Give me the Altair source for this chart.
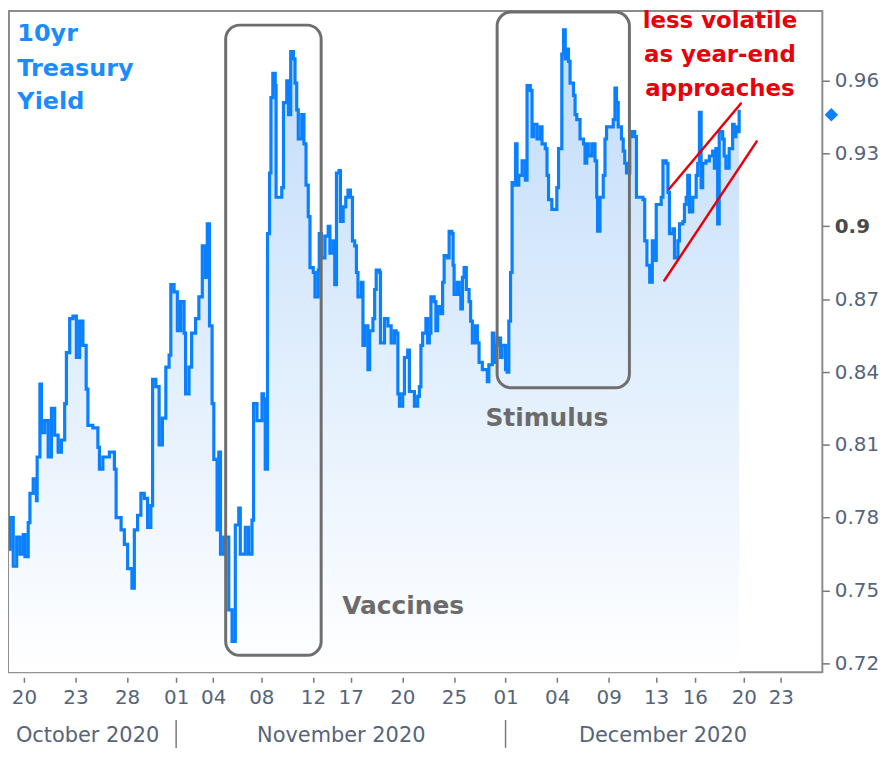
import altair as alt
import pandas as pd

# ---------------- data ----------------
# x position in trading days (0 = Oct 20), y = 10yr yield (%)
t_pos = [
    -1.10, -1.05, -0.81, -0.62, -0.42, -0.23, -0.04, 0.06, 0.25, 0.35, 0.54, 0.73, 0.77, 0.93, 1.02,
    1.21, 1.41, 1.60, 1.79, 1.99, 2.18, 2.37, 2.47, 2.66, 2.85, 3.05, 3.24, 3.43, 3.62, 3.72,
    4.01, 4.30, 4.39, 4.59, 4.97, 5.26, 5.36, 5.65, 5.84, 6.03, 6.28, 6.42, 6.61, 6.80, 7.00,
    7.19, 7.38, 7.48, 7.67, 7.86, 8.05, 8.25, 8.44, 8.54, 8.73, 8.92, 9.11, 9.31, 9.40, 9.60,
    9.75, 9.98, 10.17, 10.37, 10.56, 10.66, 10.79, 10.94, 11.04, 11.23, 11.33, 11.43, 11.62, 11.91, 12.10,
    12.29, 12.49, 12.58, 12.87, 13.06, 13.26, 13.35, 13.55, 13.84,
    13.93, 14.03, 14.12, 14.16, 14.28, 14.36, 14.47, 14.61, 14.66, 14.80, 14.99, 15.09, 15.28, 15.38, 15.51,
    15.67, 15.76, 15.86, 15.95, 16.15, 16.28, 16.40, 16.53, 16.63, 16.82, 16.92, 17.11, 17.17, 17.30, 17.50,
    17.69, 17.79, 17.98, 18.07, 18.17, 18.32, 18.40, 18.56, 18.71, 18.84, 18.98, 19.10, 19.23, 19.33, 19.42,
    19.62, 19.71, 19.81, 20.00, 20.10, 20.29, 20.39, 20.48, 20.68, 20.73, 20.87, 20.96, 21.16, 21.35, 21.54,
    21.64, 21.74, 21.83, 22.02, 22.12, 22.31, 22.41, 22.60, 22.70, 22.89, 22.99, 23.08, 23.18, 23.37, 23.47,
    23.57, 23.66, 23.85, 23.95, 24.05, 24.24, 24.34, 24.43, 24.63, 24.72, 24.88, 24.95, 25.01, 25.20, 25.30,
    25.40, 25.49, 25.59, 25.72, 25.88, 25.97, 26.07, 26.26, 26.36, 26.46, 26.65, 26.84, 26.94, 27.03, 27.23,
    27.32, 27.42, 27.52, 27.71, 27.80, 28.00, 28.09, 28.19, 28.29, 28.38, 28.48, 28.58, 28.67, 28.77, 28.96,
    29.15, 29.25,
    29.44, 29.54, 29.63, 29.83, 30.02, 30.12, 30.31, 30.41, 30.50, 30.69, 30.79, 30.98, 31.08, 31.18, 31.27,
    31.37, 31.47, 31.56, 31.66, 31.75, 31.95, 32.04, 32.14, 32.33, 32.53, 32.62, 32.72, 32.81, 33.01, 33.10,
    33.20, 33.30, 33.35, 33.49, 33.68, 33.78, 33.87, 34.07, 34.26, 34.36, 34.45, 34.55, 34.74, 34.84, 34.93,
    35.03, 35.22, 35.32, 35.51, 35.61, 35.80, 35.99, 36.09, 36.22, 36.38, 36.53, 36.67, 36.76, 36.96, 37.05,
    37.15, 37.34, 37.44, 37.53, 37.73, 37.82, 38.02, 38.11, 38.31, 38.40, 38.50, 38.59, 38.69, 38.88, 39.08,
    39.17, 39.27, 39.37, 39.46, 39.65, 39.85, 40.04, 40.14, 40.23, 40.33, 40.42, 40.62, 40.71, 40.81, 41.00,
    41.20, 41.29, 41.39, 41.48, 41.58,
]
yld = [
    0.756, 0.767, 0.780, 0.760, 0.772, 0.765, 0.773, 0.764, 0.778, 0.790, 0.796, 0.787, 0.805, 0.835, 0.815,
    0.820, 0.805, 0.825, 0.814, 0.807, 0.812, 0.827, 0.848, 0.862, 0.863, 0.846, 0.861, 0.851, 0.833, 0.818,
    0.817, 0.809, 0.800, 0.805, 0.807, 0.800, 0.780, 0.775, 0.769, 0.759, 0.751, 0.775, 0.781, 0.790, 0.788,
    0.776, 0.785, 0.837, 0.834, 0.810, 0.821, 0.842, 0.847, 0.876, 0.873, 0.857, 0.869, 0.856, 0.831, 0.842,
    0.856, 0.862, 0.871, 0.892, 0.879, 0.901, 0.859, 0.827, 0.804, 0.775, 0.807, 0.765, 0.772, 0.742, 0.729,
    0.777, 0.784, 0.765, 0.776, 0.765, 0.779, 0.827, 0.820, 0.831,
    0.829, 0.800, 0.800, 0.897, 0.922, 0.953, 0.963, 0.958, 0.912, 0.912, 0.916, 0.951, 0.960, 0.946, 0.972,
    0.969, 0.959, 0.948, 0.936, 0.946, 0.934, 0.917, 0.904, 0.883, 0.881, 0.871, 0.882, 0.897, 0.887, 0.896,
    0.900, 0.889, 0.894, 0.876, 0.922, 0.923, 0.902, 0.908, 0.912, 0.915, 0.912, 0.894, 0.892, 0.881, 0.871,
    0.877, 0.851, 0.859, 0.841, 0.857, 0.862, 0.874, 0.882, 0.881, 0.852, 0.852, 0.862, 0.859, 0.852, 0.857,
    0.856, 0.831, 0.826, 0.831, 0.846, 0.849, 0.832, 0.832, 0.826, 0.830, 0.834, 0.851, 0.856, 0.862, 0.852,
    0.856, 0.871, 0.869, 0.857, 0.867, 0.864, 0.877, 0.888, 0.887, 0.898, 0.897, 0.884, 0.872, 0.877, 0.872,
    0.866, 0.879, 0.883, 0.874, 0.869, 0.861, 0.852, 0.859, 0.852, 0.844, 0.841, 0.841, 0.836, 0.843, 0.856,
    0.844, 0.851, 0.854, 0.846, 0.851, 0.841, 0.840, 0.861, 0.881, 0.918, 0.917, 0.934, 0.917, 0.921, 0.927,
    0.919, 0.958,
    0.956, 0.937, 0.942, 0.936, 0.941, 0.934, 0.932, 0.921, 0.911, 0.907, 0.907, 0.916, 0.932, 0.932, 0.971,
    0.981, 0.969, 0.973, 0.968, 0.959, 0.954, 0.946, 0.944, 0.936, 0.934, 0.926, 0.934, 0.929, 0.934, 0.934,
    0.927, 0.912, 0.898, 0.912, 0.921, 0.936, 0.941, 0.941, 0.944, 0.957, 0.951, 0.941, 0.936, 0.931, 0.926,
    0.922, 0.937, 0.939, 0.937, 0.912, 0.912, 0.911, 0.894, 0.884, 0.877, 0.894, 0.886, 0.909, 0.909, 0.912,
    0.927, 0.926, 0.914, 0.897, 0.899, 0.887, 0.894, 0.901, 0.902, 0.909, 0.912, 0.921, 0.906, 0.912, 0.921,
    0.926, 0.947, 0.916, 0.926, 0.927, 0.929, 0.931, 0.924, 0.932, 0.901, 0.939, 0.936, 0.929, 0.924, 0.932,
    0.942, 0.937, 0.941, 0.939, 0.948,
]

tick_pos = [0, 3, 6, 8.85, 11, 13.8, 16.8, 19, 22, 25, 28, 31, 34, 36.75, 39, 41.85, 44]
tick_lbl = ["20", "23", "28", "01", "04", "08", "12", "17", "20", "25",
            "01", "04", "09", "13", "16", "20", "23"]
y_ticks = [0.72, 0.75, 0.78, 0.81, 0.84, 0.87, 0.90, 0.93, 0.96]

month_lbl = ["October 2020", "November 2020", "December 2020"]
month_pos = [3.7, 18.45, 37.15]
month_sep = [8.85, 28.0]

box_lbl = ["Vaccines", "Stimulus"]
box_t1 = [11.73, 27.51]
box_t2 = [17.28, 35.20]
box_v1 = [0.7233, 0.8335]
box_v2 = [0.9829, 0.9883]
box_text_t = [22.05, 30.40]
box_text_v = [0.7405, 0.8179]

trend_t1 = [37.51, 37.23]
trend_t2 = [41.68, 42.60]
trend_v1 = [0.9154, 0.8777]
trend_v2 = [0.9506, 0.9350]

title_lines = ["10yr", "Treasury", "Yield"]
title_t = [-0.38, -0.38, -0.38]
title_v = [0.9762, 0.9618, 0.9484]

note_lines = ["less volatile", "as year-end", "approaches"]
note_t = [40.46, 40.46, 40.46]
note_v = [0.9818, 0.9678, 0.9538]

last_t = [46.94]
last_v = [0.946]

# ---------------- chart ----------------
W, H = 818, 665
X_DOMAIN = [-0.867, 46.416]
Y_DOMAIN = [0.71631, 0.98867]
FONT = "DejaVu Sans"
BLUE = "#0a80ff"
GRAY = "#6b6b6b"
RED = "#e8000b"
LABEL = "#56647a"

xs = alt.Scale(domain=X_DOMAIN, nice=False, zero=False)
ys = alt.Scale(domain=Y_DOMAIN, nice=False, zero=False)

pos_js = ",".join(str(p) for p in tick_pos)
lbl_js = ",".join("'" + s + "'" for s in tick_lbl)
x_axis = alt.Axis(
    values=tick_pos,
    labelExpr=f"[{lbl_js}][indexof([{pos_js}], datum.value)]",
    domain=False, offset=5, tickSize=5, tickColor="#777777", tickWidth=1.5,
    labelFontSize=20, labelColor=LABEL, labelFont=FONT, labelPadding=5,
    labelFlush=False, labelOverlap=False, grid=False, title=None,
)
y_axis = alt.Axis(
    values=y_ticks, orient="right",
    labelExpr="abs(datum.value - 0.9) < 0.0001 ? '0.9' : format(datum.value, '.2f')",
    labelFontWeight=alt.ExprRef(expr="abs(datum.value - 0.9) < 0.0001 ? 'bold' : 'normal'"),
    labelColor=alt.ExprRef(expr="abs(datum.value - 0.9) < 0.0001 ? '#4a4a4a' : '" + LABEL + "'"),
    domain=False, tickSize=7, tickColor="#777777", tickWidth=1.5,
    labelFontSize=20, labelFont=FONT, labelPadding=5, grid=False, title=None,
)


def X(field):
    return alt.X(field, scale=xs, axis=x_axis)


def Y(field):
    return alt.Y(field, scale=ys, axis=y_axis)


df = pd.DataFrame({"t": t_pos, "v": yld})

area = alt.Chart(df).mark_area(
    clip=True, interpolate="step-after",
    color=alt.Gradient(
        gradient="linear",
        stops=[alt.GradientStop(color="#c0dcfa", offset=0),
               alt.GradientStop(color="#ffffff", offset=1)],
        x1=1, x2=1, y1=0, y2=1,
    ),
).encode(x=X("t:Q"), y=Y("v:Q"), y2=alt.datum(Y_DOMAIN[0]))

line = alt.Chart(df).mark_line(
    clip=True, color=BLUE, strokeWidth=3.2, interpolate="step-after"
).encode(x=X("t:Q"), y=Y("v:Q"))

boxes_df = pd.DataFrame({"t1": box_t1, "t2": box_t2, "v1": box_v1, "v2": box_v2})
boxes = alt.Chart(boxes_df).mark_rect(
    fillOpacity=0, stroke="#6e6e6e", strokeWidth=3, cornerRadius=14
).encode(x=X("t1:Q"), x2="t2:Q", y=Y("v1:Q"), y2="v2:Q")

trend_df = pd.DataFrame({"t1": trend_t1, "t2": trend_t2, "v1": trend_v1, "v2": trend_v2})
trends = alt.Chart(trend_df).mark_rule(color=RED, strokeWidth=2.5, strokeCap="round").encode(
    x=X("t1:Q"), x2="t2:Q", y=Y("v1:Q"), y2="v2:Q"
)

box_text_df = pd.DataFrame({"t": box_text_t, "v": box_text_v, "txt": box_lbl})
box_texts = alt.Chart(box_text_df).mark_text(
    font=FONT, fontSize=25, fontWeight="bold", color=GRAY, align="center", baseline="alphabetic"
).encode(x=X("t:Q"), y=Y("v:Q"), text="txt:N")

title_df = pd.DataFrame({"t": title_t, "v": title_v, "txt": title_lines})
title = alt.Chart(title_df).mark_text(
    font=FONT, fontSize=24, fontWeight="bold", color="#1a8cff", align="left", baseline="alphabetic"
).encode(x=X("t:Q"), y=Y("v:Q"), text="txt:N")

note_df = pd.DataFrame({"t": note_t, "v": note_v, "txt": note_lines})
note = alt.Chart(note_df).mark_text(
    font=FONT, fontSize=23, fontWeight="bold", color=RED, align="center", baseline="alphabetic"
).encode(x=X("t:Q"), y=Y("v:Q"), text="txt:N")

month_df = pd.DataFrame({"t": month_pos, "txt": month_lbl})
months = alt.Chart(month_df).mark_text(
    font=FONT, fontSize=21, color=LABEL, align="center", baseline="middle"
).encode(x=X("t:Q"), y=alt.value(H + 64), text="txt:N")

sep_df = pd.DataFrame({"t": month_sep})
seps = alt.Chart(sep_df).mark_rule(color="#7a7a7a", strokeWidth=1.5).encode(
    x=X("t:Q"), y=alt.value(H + 48), y2=alt.value(H + 76)
)

last_df = pd.DataFrame({"t": last_t, "v": last_v})
last = alt.Chart(last_df).mark_point(
    shape="diamond", filled=True, size=180, color=BLUE, opacity=1
).encode(x=X("t:Q"), y=Y("v:Q"))

chart = alt.layer(
    area, line, boxes, trends, box_texts, title, note, months, seps, last
).properties(
    width=W, height=H,
    autosize=alt.AutoSizeParams(type="none"),
    padding={"left": 1, "top": 1, "right": 60, "bottom": 80},
    background="white",
).configure_view(
    stroke="#8c8c8c", strokeWidth=2
)

chart.save("out.html", embed_options={"renderer": "svg", "actions": False})
